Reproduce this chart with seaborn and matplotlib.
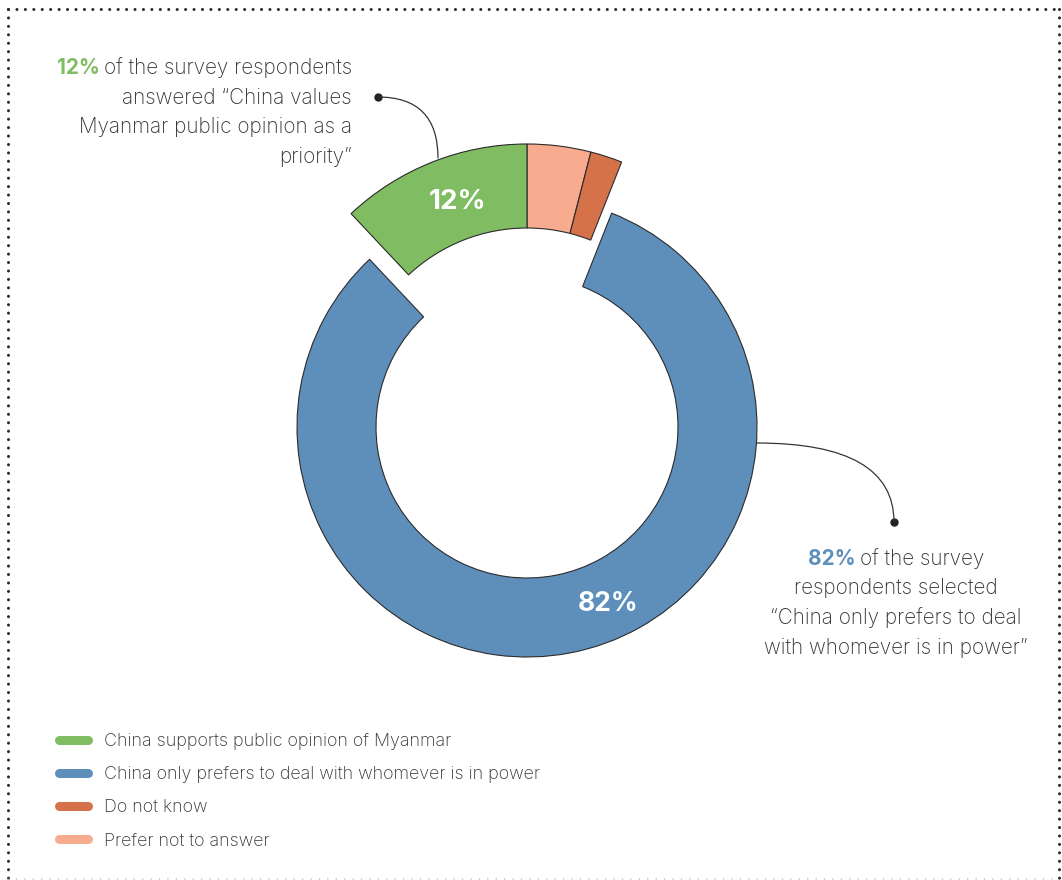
import matplotlib
matplotlib.use("Agg")
import matplotlib.pyplot as plt
from matplotlib.lines import Line2D
import seaborn as sns

W, H = 1062, 880

# --------- Data --------- #
# Clockwise from 12 o'clock, as the ring is drawn
CATEGORIES = ["Prefer not to answer", "Do not know",
              "China only prefers to deal with whomever is in power",
              "China supports public opinion of Myanmar"]
SHARES = [4, 2, 82, 12]
COLORS = ["#f7ab8f", "#d6724a", "#5e8fbb", "#80bc62"]
PULLED_OUT = [True, True, False, True]      # wedges lifted out of the ring
LEGEND_ORDER = [3, 2, 1, 0]

TOP_NOTE = ["of the survey respondents", "answered \u201cChina values",
            "Myanmar public opinion as a", "priority\u201d"]
BOTTOM_NOTE = ["of the survey", "respondents selected",
               "\u201cChina only prefers to deal", "with whomever is in power\u201d"]

TEXT = "#353535"
EDGE = "#2b2b2b"


def py(y):
    # pixel row (from top) -> data y (from bottom)
    return H - y


sns.set_theme(style="white")
plt.rcParams["font.family"] = ["Inter", "DejaVu Sans"]

fig = plt.figure(figsize=(W / 100, H / 100), dpi=100)
ax = fig.add_axes([0, 0, 1, 1])

# --------- Donut: main ring --------- #
ring, _ = ax.pie(SHARES, colors=COLORS, startangle=90, counterclock=False,
                 radius=230, center=(527, py(427)),
                 wedgeprops=dict(width=79, edgecolor=EDGE, linewidth=0.8))
for w, out in zip(ring, PULLED_OUT):
    w.set_visible(not out)

# --------- Donut: lifted wedges --------- #
lifted, _ = ax.pie(SHARES, colors=COLORS, startangle=90, counterclock=False,
                   radius=257, center=(527, py(401)),
                   wedgeprops=dict(width=84, edgecolor=EDGE, linewidth=0.8))
for w, out in zip(lifted, PULLED_OUT):
    w.set_visible(out)

ax.set_xlim(0, W)
ax.set_ylim(0, H)
ax.set_aspect("equal")
ax.axis("off")

# value labels inside the ring
ax.text(458, py(209), f"{SHARES[3]}%", color="white", fontsize=20,
        fontweight="bold", ha="center", va="baseline")
ax.text(608, py(611), f"{SHARES[2]}%", color="white", fontsize=19,
        fontweight="bold", ha="center", va="baseline")

# --------- Callout connectors --------- #
conn = dict(arrowstyle="-", color=TEXT, lw=0.9, shrinkA=0, shrinkB=0,
            connectionstyle="angle3,angleA=0,angleB=90")
ax.annotate("", xy=(438, py(158)), xytext=(378, py(97)), arrowprops=conn)
ax.plot(378, py(97), "o", color="#222222", ms=5)
ax.annotate("", xy=(894, py(522)), xytext=(757, py(443)), arrowprops=conn)
ax.plot(894, py(522), "o", color="#222222", ms=5)

# --------- Callout texts --------- #
FS = 14.9
renderer = fig.canvas.get_renderer()


def two_tone(x, y, bold, rest, color, align):
    b = ax.text(0, y, bold, color=color, fontsize=FS, fontweight="bold",
                ha="left", va="baseline")
    r = ax.text(0, y, rest, color=TEXT, fontsize=FS, fontweight="light",
                ha="left", va="baseline")
    wb = b.get_window_extent(renderer).width
    wr = r.get_window_extent(renderer).width
    gap = 0.3 * FS
    total = wb + gap + wr
    start = x - total if align == "right" else x - total / 2
    b.set_x(start)
    r.set_x(start + wb + gap)


two_tone(352, py(74), f"{SHARES[3]}%", TOP_NOTE[0], COLORS[3], "right")
for i, line in enumerate(TOP_NOTE[1:], start=1):
    ax.text(352, py(74 + 29.7 * i), line, color=TEXT, fontsize=FS,
            fontweight="light", ha="right", va="baseline")

two_tone(896, py(565), f"{SHARES[2]}%", BOTTOM_NOTE[0], COLORS[2], "center")
for i, line in enumerate(BOTTOM_NOTE[1:], start=1):
    ax.text(896, py(565 + 29.5 * i), line, color=TEXT, fontsize=FS,
            fontweight="light", ha="center", va="baseline")

# --------- Legend --------- #
handles = [Line2D([0], [0], color=COLORS[i], lw=6.5, solid_capstyle="round")
           for i in LEGEND_ORDER]
labels = [CATEGORIES[i] for i in LEGEND_ORDER]
ax.legend(handles, labels, loc="upper left",
          bbox_to_anchor=(58.5 / W, py(733) / H), frameon=False,
          prop=dict(size=12.9, weight="light"),
          handlelength=1.62, handletextpad=0.92,
          labelspacing=0.9, borderpad=0, borderaxespad=0,
          labelcolor=TEXT)

# --------- Dotted frame --------- #
dots = dict(color="#2a2a2a", lw=2.2, linestyle=(0, (0.01, 2.75)),
            dash_capstyle="round", clip_on=False)
ax.plot([8, 1059], [py(9), py(9)], **dots)
ax.plot([8, 8], [py(9), py(879)], **dots)
ax.plot([1059, 1059], [py(9), py(879)], **dots)
ax.plot([8, 1059], [py(879), py(879)], color="#b5b5b5", lw=1.1,
        linestyle=(0, (0.01, 5.5)), dash_capstyle="round", clip_on=False)

fig.savefig("out.png", dpi=100)
